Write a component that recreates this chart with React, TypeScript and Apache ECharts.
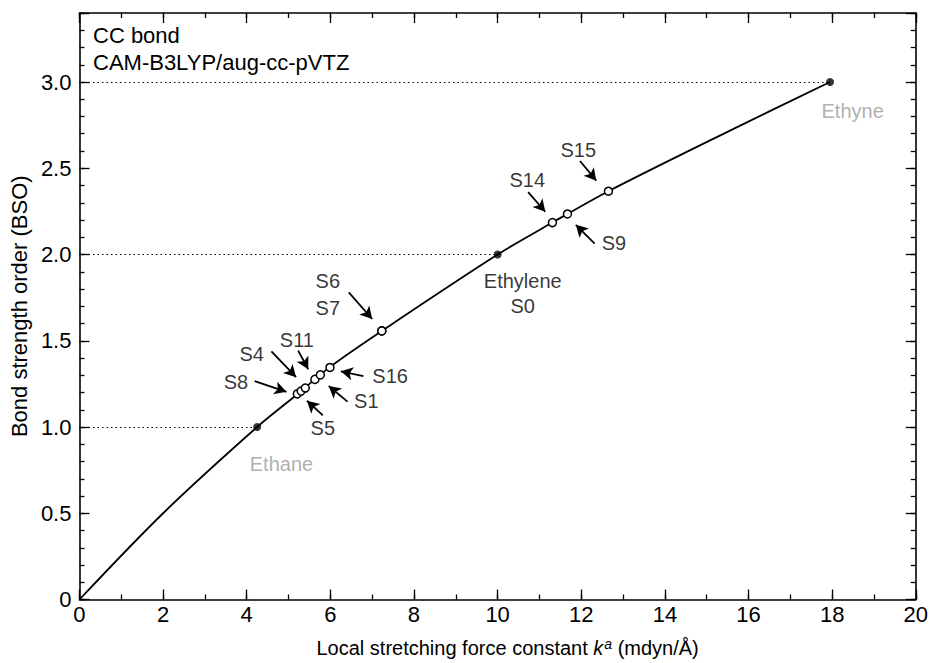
import React, { useEffect, useRef } from "react";
import * as echarts from "echarts";

const FONT = '"Liberation Sans", Arial, Helvetica, sans-serif';

// Fitted BSO curve
const curveK = [0, 2.0, 4.25, 5.21, 6.0, 7.23, 10.0, 11.31, 12.65, 15.52, 17.95];
const curveBSO = [0, 0.5, 1.0, 1.19, 1.35, 1.557, 2.0, 2.185, 2.367, 2.714, 3.0];

// Reference molecules (filled dots)
const refNames = ["Ethane", "Ethylene", "Ethyne"];
const refK = [4.25, 10.0, 17.95];
const refBSO = [1.0, 2.0, 3.0];

// Studied systems (open circles)
const molNames = ["S8", "S4", "S5", "S11", "S1", "S16", "S6", "S7", "S14", "S9", "S15"];
const molK = [5.21, 5.3, 5.4, 5.63, 5.76, 5.99, 7.23, 7.23, 11.31, 11.67, 12.65];
const molBSO = [1.192, 1.208, 1.226, 1.276, 1.302, 1.345, 1.557, 1.557, 2.185, 2.235, 2.367];

// Annotation labels
const annNames = ["S8", "S4", "S11", "S5", "S1", "S16", "S6", "S7", "Ethylene", "S0", "S14", "S15", "S9"];
const annK = [3.74, 4.12, 5.2, 5.82, 6.86, 7.43, 5.94, 5.94, 10.6, 10.6, 10.71, 11.93, 12.78];
const annBSO = [1.261, 1.426, 1.506, 0.993, 1.152, 1.295, 1.848, 1.689, 1.848, 1.7, 2.43, 2.607, 2.065];

const greyNames = ["Ethane", "Ethyne"];
const greyK = [4.83, 18.49];
const greyBSO = [0.787, 2.83];

// Arrows (tail -> head)
const arrowFromK = [4.19, 4.59, 5.23, 5.82, 6.41, 6.79, 6.44, 10.73, 11.97, 12.32];
const arrowFromBSO = [1.266, 1.438, 1.443, 1.067, 1.147, 1.295, 1.78, 2.362, 2.542, 2.063];
const arrowToK = [4.95, 5.18, 5.47, 5.44, 5.96, 6.25, 7.0, 11.14, 12.36, 11.87];
const arrowToBSO = [1.204, 1.289, 1.335, 1.152, 1.238, 1.323, 1.626, 2.248, 2.428, 2.172];

const xTickLabelFmt = (v: number) => (Math.round(v) % 2 === 0 ? String(Math.round(v)) : "");
const yTickLabelFmt = (v: number) => {
  const r = Math.round(v * 10);
  if (r % 5 !== 0) return "";
  return r === 0 ? "0" : (r / 10).toFixed(1);
};

export default function App() {
  const ref = useRef<HTMLDivElement>(null);
  useEffect(() => {
    if (!ref.current) return;
    const chart = echarts.init(ref.current, undefined, { renderer: "svg" });
    const lineCol = "#000";
    const tickStyle = { color: lineCol, width: 1.3 };
    const baseX = (extra: any) => ({
      type: "value",
      min: 0,
      max: 20,
      splitLine: { show: false },
      ...extra,
    });
    const baseY = (extra: any) => ({
      type: "value",
      min: 0,
      max: 3.4,
      splitLine: { show: false },
      ...extra,
    });
    const option: any = {
      animation: false,
      backgroundColor: "#fff",
      textStyle: { fontFamily: FONT },
      grid: { left: 76, right: 10, top: 13, bottom: 54, containLabel: false },
      xAxis: [
        baseX({
          position: "bottom",
          interval: 1,
          axisLine: { show: true, onZero: false, lineStyle: { color: lineCol, width: 1.6 } },
          axisTick: { show: true, inside: true, length: 5, lineStyle: tickStyle },
          axisLabel: { formatter: xTickLabelFmt, color: "#000", fontSize: 22, fontFamily: FONT, margin: 4 },
          name: "Local stretching force constant {i|k}{sup|a} (mdyn/Å)",
          nameLocation: "middle",
          nameGap: 37,
          nameTextStyle: {
            color: "#000",
            fontSize: 20,
            fontFamily: FONT,
            padding: [0, 0, 0, 20],
            rich: {
              i: { fontStyle: "italic", fontSize: 20, color: "#000", fontFamily: FONT },
              sup: { fontStyle: "italic", fontSize: 14, color: "#000", fontFamily: FONT, verticalAlign: "top", padding: [0, 0, 9, 1] },
            },
          },
        }),
        baseX({
          position: "bottom",
          interval: 2,
          axisLine: { show: false, onZero: false },
          axisTick: { show: true, inside: true, length: 10, lineStyle: tickStyle },
          axisLabel: { show: false },
        }),
        baseX({
          position: "top",
          interval: 1,
          axisLine: { show: true, onZero: false, lineStyle: { color: lineCol, width: 1.6 } },
          axisTick: { show: true, inside: true, length: 5, lineStyle: tickStyle },
          axisLabel: { show: false },
        }),
        baseX({
          position: "top",
          interval: 2,
          axisLine: { show: false, onZero: false },
          axisTick: { show: true, inside: true, length: 10, lineStyle: tickStyle },
          axisLabel: { show: false },
        }),
      ],
      yAxis: [
        baseY({
          position: "left",
          interval: 0.1,
          axisLine: { show: true, onZero: false, lineStyle: { color: lineCol, width: 1.6 } },
          axisTick: { show: true, inside: true, length: 5, lineStyle: tickStyle },
          axisLabel: { formatter: yTickLabelFmt, color: "#000", fontSize: 22, fontFamily: FONT, margin: 8 },
          name: "Bond strength order (BSO)",
          nameLocation: "middle",
          nameGap: 48,
          nameTextStyle: { color: "#000", fontSize: 22, fontFamily: FONT },
        }),
        baseY({
          position: "left",
          interval: 0.5,
          axisLine: { show: false, onZero: false },
          axisTick: { show: true, inside: true, length: 10, lineStyle: tickStyle },
          axisLabel: { show: false },
        }),
        baseY({
          position: "right",
          interval: 0.1,
          axisLine: { show: true, onZero: false, lineStyle: { color: lineCol, width: 1.6 } },
          axisTick: { show: true, inside: true, length: 5, lineStyle: tickStyle },
          axisLabel: { show: false },
        }),
        baseY({
          position: "right",
          interval: 0.5,
          axisLine: { show: false, onZero: false },
          axisTick: { show: true, inside: true, length: 10, lineStyle: tickStyle },
          axisLabel: { show: false },
        }),
      ],
      graphic: [
        {
          type: "text",
          left: 93,
          top: 22,
          style: { text: "CC bond\nCAM-B3LYP/aug-cc-pVTZ", fill: "#000", font: `22px ${FONT}`, lineHeight: 27 },
        },
      ],
      series: [
        {
          type: "line",
          name: "curve",
          data: curveK.map((k, i) => [k, curveBSO[i]]),
          smooth: 0.3,
          showSymbol: false,
          symbol: "none",
          lineStyle: { color: "#000", width: 1.8 },
          silent: true,
          z: 2,
        },
        {
          type: "scatter",
          name: "reference",
          data: refK.map((k, i) => ({ name: refNames[i], value: [k, refBSO[i]] })),
          symbol: "circle",
          symbolSize: 8,
          itemStyle: { color: "#000" },
          silent: true,
          z: 4,
          markLine: {
            silent: true,
            symbol: ["none", "none"],
            label: { show: false },
            lineStyle: { color: "#000", type: [1.5, 3], width: 1.2 },
            data: refK.map((k, i) => [{ coord: [0, refBSO[i]] }, { coord: [k, refBSO[i]] }]),
          },
        },
        {
          type: "scatter",
          name: "systems",
          data: molK.map((k, i) => ({ name: molNames[i], value: [k, molBSO[i]] })),
          symbol: "circle",
          symbolSize: 8,
          itemStyle: { color: "#fff", borderColor: "#000", borderWidth: 1.5, opacity: 1 },
          silent: true,
          z: 5,
        },
        {
          type: "scatter",
          name: "labels",
          data: annK.map((k, i) => ({ name: annNames[i], value: [k, annBSO[i]] })),
          symbolSize: 0,
          itemStyle: { color: "transparent" },
          label: {
            show: true,
            position: "inside",
            formatter: (p: any) => p.name,
            color: "#000",
            fontSize: 20,
            fontFamily: FONT,
            textBorderWidth: 0,
          },
          silent: true,
          z: 6,
          markLine: {
            silent: true,
            symbol: ["none", "arrow"],
            symbolSize: [10, 12],
            label: { show: false },
            lineStyle: { color: "#000", type: "solid", width: 1.8 },
            data: arrowFromK.map((k, i) => [
              { coord: [k, arrowFromBSO[i]] },
              { coord: [arrowToK[i], arrowToBSO[i]] },
            ]),
          },
        },
        {
          type: "scatter",
          name: "greyLabels",
          data: greyK.map((k, i) => ({ name: greyNames[i], value: [k, greyBSO[i]] })),
          symbolSize: 0,
          itemStyle: { color: "transparent" },
          label: {
            show: true,
            position: "inside",
            formatter: (p: any) => p.name,
            color: "#9a9a9a",
            fontSize: 20,
            fontFamily: FONT,
            textBorderWidth: 0,
          },
          silent: true,
          z: 6,
        },
      ],
    };
    chart.setOption(option);
    return () => chart.dispose();
  }, []);
  return (
    <div
      ref={ref}
      style={{ position: "fixed", left: 0, top: 0, width: 931, height: 663, background: "#fff" }}
    />
  );
}
